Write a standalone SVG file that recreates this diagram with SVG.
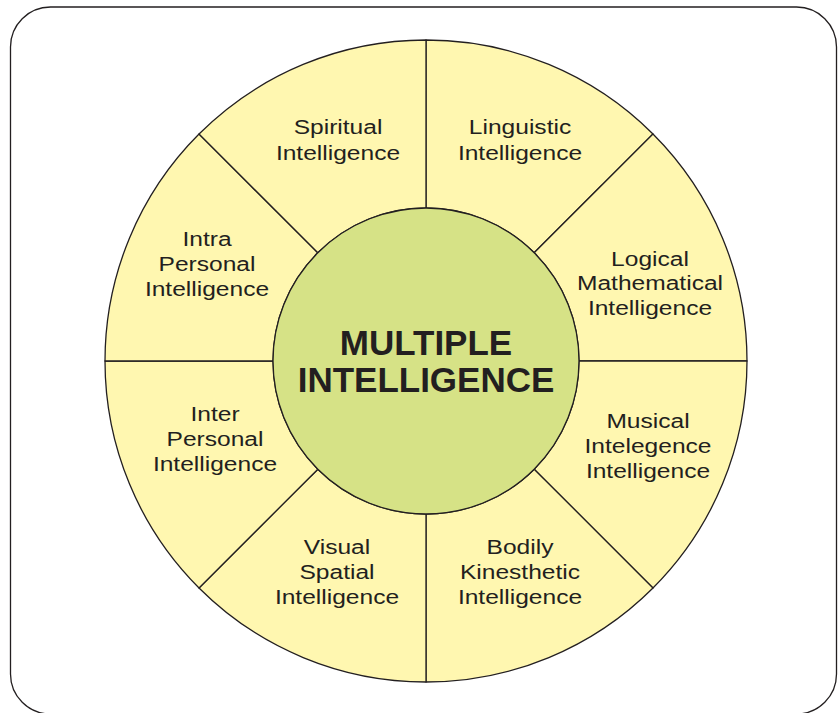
<svg xmlns="http://www.w3.org/2000/svg" width="839" height="713" viewBox="0 0 839 713">
<style>
.frame{fill:#ffffff;stroke:#231f20;stroke-width:1.3}
.sec{fill:#fff7b0;stroke:#231f20;stroke-width:1.3;stroke-linejoin:round}
.core{fill:#d6e286;stroke:#231f20;stroke-width:1.3}
.lbl{font-family:"Liberation Sans",Arial,sans-serif;font-size:21px;fill:#231f20;text-anchor:middle}
.title{font-family:"Liberation Sans",Arial,sans-serif;font-size:35px;font-weight:bold;fill:#231f20;text-anchor:middle}
</style>
<rect class="frame" x="10.5" y="7" width="826" height="707" rx="40" ry="40"/>
<g id="linguistic">
<path class="sec" d="M426,40 A321,321 0 0 1 652.98,134.02 L534.19,252.81 A153,153 0 0 0 426,208 Z"/>
<g transform="translate(520,0) scale(1.17,1)"><text class="lbl" x="0" y="134.5">Linguistic</text><text class="lbl" x="0" y="160">Intelligence</text></g>
</g>
<g id="logical">
<path class="sec" d="M652.98,134.02 A321,321 0 0 1 747,361 L579,361 A153,153 0 0 0 534.19,252.81 Z"/>
<g transform="translate(650,0) scale(1.17,1)"><text class="lbl" x="0" y="266">Logical</text><text class="lbl" x="0" y="290.5">Mathematical</text><text class="lbl" x="0" y="315">Intelligence</text></g>
</g>
<g id="musical">
<path class="sec" d="M747,361 A321,321 0 0 1 652.98,587.98 L534.19,469.19 A153,153 0 0 0 579,361 Z"/>
<g transform="translate(648,0) scale(1.17,1)"><text class="lbl" x="0" y="428">Musical</text><text class="lbl" x="0" y="453">Intelegence</text><text class="lbl" x="0" y="478">Intelligence</text></g>
</g>
<g id="bodily">
<path class="sec" d="M652.98,587.98 A321,321 0 0 1 426,682 L426,514 A153,153 0 0 0 534.19,469.19 Z"/>
<g transform="translate(520,0) scale(1.17,1)"><text class="lbl" x="0" y="554">Bodily</text><text class="lbl" x="0" y="579">Kinesthetic</text><text class="lbl" x="0" y="604">Intelligence</text></g>
</g>
<g id="visual">
<path class="sec" d="M426,682 A321,321 0 0 1 199.02,587.98 L317.81,469.19 A153,153 0 0 0 426,514 Z"/>
<g transform="translate(337,0) scale(1.17,1)"><text class="lbl" x="0" y="554">Visual</text><text class="lbl" x="0" y="579">Spatial</text><text class="lbl" x="0" y="604">Intelligence</text></g>
</g>
<g id="inter">
<path class="sec" d="M199.02,587.98 A321,321 0 0 1 105,361 L273,361 A153,153 0 0 0 317.81,469.19 Z"/>
<g transform="translate(215,0) scale(1.17,1)"><text class="lbl" x="0" y="421">Inter</text><text class="lbl" x="0" y="446">Personal</text><text class="lbl" x="0" y="471">Intelligence</text></g>
</g>
<g id="intra">
<path class="sec" d="M105,361 A321,321 0 0 1 199.02,134.02 L317.81,252.81 A153,153 0 0 0 273,361 Z"/>
<g transform="translate(207,0) scale(1.17,1)"><text class="lbl" x="0" y="246">Intra</text><text class="lbl" x="0" y="271">Personal</text><text class="lbl" x="0" y="296">Intelligence</text></g>
</g>
<g id="spiritual">
<path class="sec" d="M199.02,134.02 A321,321 0 0 1 426,40 L426,208 A153,153 0 0 0 317.81,252.81 Z"/>
<g transform="translate(338,0) scale(1.17,1)"><text class="lbl" x="0" y="134.5">Spiritual</text><text class="lbl" x="0" y="160">Intelligence</text></g>
</g>
<g id="center">
<circle class="core" cx="426" cy="361" r="153"/>
<text class="title" x="426" y="355">MULTIPLE</text>
<text class="title" x="426" y="391.5">INTELLIGENCE</text>
</g>
<g id="connectors"/>
</svg>
